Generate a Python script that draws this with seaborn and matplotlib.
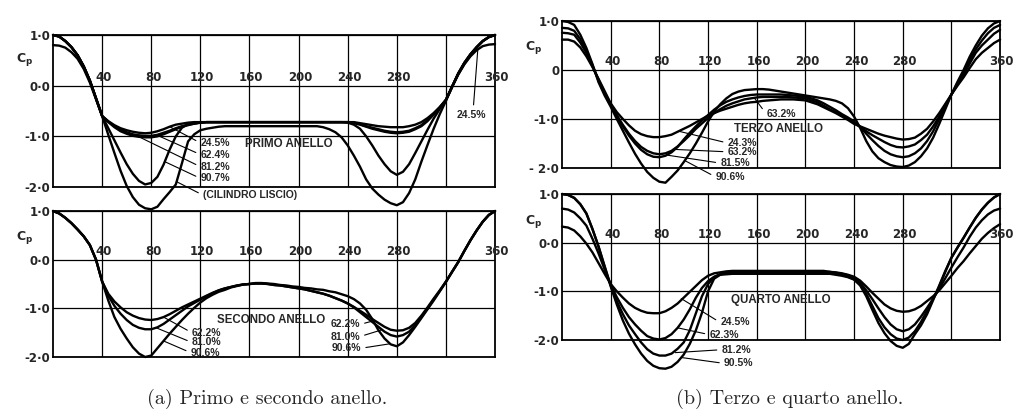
import matplotlib
matplotlib.use("Agg")
import matplotlib.pyplot as plt
import pandas as pd
import seaborn as sns

# pressure coefficient Cp vs angle (deg), every 5 deg
THETA = list(range(0, 361, 5))

# primo anello
primo_245 = [0.80, 0.79, 0.75, 0.66, 0.53, 0.33, 0.06, -0.27, -0.60, -0.70, -0.78, -0.84,
             -0.88, -0.91, -0.93, -0.94, -0.93, -0.90, -0.86, -0.81, -0.77, -0.75, -0.73, -0.72,
             -0.72, -0.72, -0.72, -0.72, -0.72, -0.72, -0.72, -0.72, -0.72, -0.72, -0.72, -0.72,
             -0.72, -0.72, -0.72, -0.72, -0.72, -0.72, -0.72, -0.72, -0.72, -0.72, -0.72, -0.72,
             -0.72, -0.72, -0.74, -0.76, -0.78, -0.80, -0.81, -0.82, -0.82, -0.82, -0.80, -0.77,
             -0.72, -0.64, -0.54, -0.42, -0.28, -0.02, 0.22, 0.42, 0.58, 0.70, 0.78, 0.81,
             0.82]
primo_624 = [1.00, 0.97, 0.88, 0.76, 0.60, 0.38, 0.10, -0.25, -0.60, -0.71, -0.80, -0.87,
             -0.92, -0.96, -0.98, -0.99, -0.99, -0.97, -0.93, -0.89, -0.84, -0.80, -0.77, -0.75,
             -0.73, -0.72, -0.72, -0.72, -0.72, -0.72, -0.72, -0.72, -0.72, -0.72, -0.72, -0.72,
             -0.72, -0.72, -0.72, -0.72, -0.72, -0.72, -0.72, -0.72, -0.72, -0.72, -0.72, -0.72,
             -0.72, -0.73, -0.76, -0.80, -0.83, -0.86, -0.89, -0.91, -0.92, -0.91, -0.89, -0.84,
             -0.78, -0.68, -0.56, -0.43, -0.28, -0.02, 0.24, 0.45, 0.62, 0.76, 0.88, 0.96,
             1.00]
primo_812 = [1.00, 0.97, 0.88, 0.76, 0.60, 0.38, 0.10, -0.25, -0.60, -0.72, -0.82, -0.90,
             -0.95, -0.99, -1.01, -1.02, -1.02, -1.00, -0.96, -0.91, -0.86, -0.81, -0.78, -0.75,
             -0.73, -0.72, -0.72, -0.72, -0.72, -0.72, -0.72, -0.72, -0.72, -0.72, -0.72, -0.72,
             -0.72, -0.72, -0.72, -0.72, -0.72, -0.72, -0.72, -0.72, -0.72, -0.72, -0.72, -0.72,
             -0.72, -0.74, -0.77, -0.81, -0.85, -0.88, -0.91, -0.93, -0.94, -0.93, -0.91, -0.86,
             -0.80, -0.70, -0.57, -0.43, -0.28, -0.02, 0.24, 0.45, 0.62, 0.76, 0.88, 0.96,
             1.00]
primo_907 = [1.00, 0.97, 0.88, 0.76, 0.60, 0.38, 0.10, -0.25, -0.60, -0.84, -1.08, -1.32,
             -1.55, -1.74, -1.88, -1.95, -1.92, -1.80, -1.56, -1.26, -1.00, -0.83, -0.76, -0.74,
             -0.73, -0.72, -0.72, -0.72, -0.72, -0.72, -0.72, -0.72, -0.72, -0.72, -0.72, -0.72,
             -0.72, -0.72, -0.72, -0.72, -0.72, -0.72, -0.72, -0.72, -0.72, -0.72, -0.72, -0.72,
             -0.73, -0.77, -0.85, -1.00, -1.18, -1.38, -1.55, -1.69, -1.76, -1.70, -1.55, -1.33,
             -1.10, -0.87, -0.65, -0.46, -0.28, -0.02, 0.24, 0.45, 0.62, 0.76, 0.88, 0.96,
             1.00]
primo_liscio = [1.00, 0.97, 0.88, 0.76, 0.60, 0.38, 0.10, -0.25, -0.60, -0.97, -1.33, -1.68,
                -1.98, -2.20, -2.35, -2.42, -2.44, -2.39, -2.24, -2.10, -1.95, -1.53, -1.10, -0.96,
                -0.88, -0.85, -0.83, -0.81, -0.80, -0.80, -0.80, -0.80, -0.80, -0.80, -0.80, -0.80,
                -0.80, -0.80, -0.80, -0.80, -0.80, -0.80, -0.80, -0.80, -0.82, -0.86, -0.92, -1.02,
                -1.18, -1.38, -1.60, -1.85, -2.03, -2.15, -2.25, -2.32, -2.36, -2.30, -2.12, -1.85,
                -1.50, -1.17, -0.85, -0.56, -0.30, -0.03, 0.22, 0.43, 0.60, 0.75, 0.88, 0.96,
                1.00]

# secondo anello
secondo_622 = [1.00, 0.95, 0.86, 0.75, 0.62, 0.48, 0.30, 0.00, -0.45, -0.70, -0.86, -0.98,
               -1.08, -1.15, -1.20, -1.23, -1.24, -1.22, -1.18, -1.12, -1.05, -0.98, -0.92, -0.86,
               -0.80, -0.74, -0.68, -0.63, -0.59, -0.56, -0.53, -0.51, -0.50, -0.49, -0.49, -0.50,
               -0.52, -0.53, -0.55, -0.57, -0.59, -0.61, -0.64, -0.67, -0.70, -0.74, -0.79, -0.84,
               -0.90, -0.97, -1.05, -1.13, -1.22, -1.30, -1.38, -1.44, -1.46, -1.45, -1.40, -1.30,
               -1.15, -0.98, -0.80, -0.63, -0.45, -0.25, -0.05, 0.18, 0.40, 0.60, 0.78, 0.92,
               1.00]
secondo_810 = [1.00, 0.95, 0.86, 0.75, 0.62, 0.48, 0.30, 0.00, -0.45, -0.74, -0.95, -1.11,
               -1.24, -1.34, -1.40, -1.43, -1.43, -1.39, -1.32, -1.23, -1.14, -1.05, -0.96, -0.89,
               -0.82, -0.75, -0.69, -0.63, -0.59, -0.56, -0.53, -0.51, -0.50, -0.49, -0.49, -0.50,
               -0.52, -0.53, -0.55, -0.57, -0.59, -0.61, -0.64, -0.67, -0.70, -0.74, -0.79, -0.84,
               -0.90, -0.98, -1.08, -1.18, -1.28, -1.38, -1.48, -1.55, -1.58, -1.55, -1.48, -1.34,
               -1.18, -1.00, -0.82, -0.64, -0.45, -0.25, -0.05, 0.18, 0.40, 0.60, 0.78, 0.92,
               1.00]
secondo_906 = [1.00, 0.95, 0.86, 0.75, 0.62, 0.48, 0.30, 0.00, -0.45, -0.84, -1.18, -1.42,
               -1.62, -1.80, -1.93, -2.00, -1.97, -1.82, -1.67, -1.52, -1.38, -1.24, -1.11, -0.99,
               -0.88, -0.79, -0.72, -0.66, -0.62, -0.57, -0.54, -0.51, -0.50, -0.48, -0.48, -0.49,
               -0.50, -0.52, -0.53, -0.55, -0.56, -0.58, -0.59, -0.61, -0.62, -0.65, -0.67, -0.71,
               -0.75, -0.81, -0.90, -1.03, -1.22, -1.45, -1.62, -1.74, -1.78, -1.70, -1.55, -1.38,
               -1.20, -1.02, -0.84, -0.65, -0.46, -0.25, -0.05, 0.18, 0.40, 0.60, 0.78, 0.92,
               1.00]

# terzo anello
terzo_243 = [0.62, 0.62, 0.58, 0.46, 0.28, 0.06, -0.18, -0.43, -0.68, -0.86, -1.00, -1.13,
             -1.24, -1.31, -1.35, -1.37, -1.37, -1.35, -1.32, -1.26, -1.20, -1.14, -1.07, -1.00,
             -0.93, -0.88, -0.83, -0.79, -0.75, -0.71, -0.68, -0.66, -0.65, -0.63, -0.62, -0.61,
             -0.60, -0.60, -0.60, -0.61, -0.62, -0.66, -0.70, -0.76, -0.82, -0.88, -0.95, -1.02,
             -1.10, -1.15, -1.20, -1.25, -1.30, -1.34, -1.37, -1.40, -1.42, -1.41, -1.38, -1.30,
             -1.20, -1.05, -0.88, -0.69, -0.50, -0.32, -0.15, 0.04, 0.22, 0.35, 0.45, 0.55,
             0.62]
terzo_632 = [0.76, 0.75, 0.72, 0.56, 0.35, 0.08, -0.20, -0.46, -0.70, -0.92, -1.12, -1.30,
             -1.45, -1.57, -1.65, -1.70, -1.72, -1.70, -1.65, -1.56, -1.45, -1.33, -1.20, -1.09,
             -0.98, -0.88, -0.80, -0.73, -0.68, -0.64, -0.60, -0.58, -0.56, -0.55, -0.55, -0.55,
             -0.55, -0.55, -0.56, -0.57, -0.58, -0.62, -0.66, -0.73, -0.80, -0.86, -0.93, -1.00,
             -1.08, -1.16, -1.25, -1.33, -1.40, -1.47, -1.53, -1.57, -1.58, -1.56, -1.52, -1.43,
             -1.32, -1.15, -0.95, -0.72, -0.50, -0.30, -0.10, 0.13, 0.35, 0.50, 0.62, 0.74,
             0.82]
terzo_815 = [0.86, 0.85, 0.80, 0.63, 0.40, 0.10, -0.22, -0.48, -0.72, -0.95, -1.15, -1.34,
             -1.50, -1.63, -1.72, -1.77, -1.78, -1.75, -1.68, -1.57, -1.42, -1.28, -1.15, -1.03,
             -0.92, -0.81, -0.72, -0.65, -0.60, -0.56, -0.53, -0.51, -0.50, -0.50, -0.50, -0.50,
             -0.50, -0.51, -0.52, -0.53, -0.55, -0.58, -0.62, -0.68, -0.75, -0.82, -0.90, -0.97,
             -1.05, -1.16, -1.30, -1.43, -1.55, -1.65, -1.72, -1.76, -1.78, -1.76, -1.70, -1.60,
             -1.45, -1.25, -1.00, -0.75, -0.50, -0.27, -0.05, 0.20, 0.42, 0.60, 0.75, 0.86,
             0.92]
terzo_906 = [1.00, 0.98, 0.92, 0.72, 0.45, 0.12, -0.25, -0.52, -0.75, -1.00, -1.24, -1.48,
             -1.71, -1.91, -2.08, -2.20, -2.28, -2.30, -2.18, -2.05, -1.88, -1.70, -1.50, -1.28,
             -1.05, -0.85, -0.70, -0.58, -0.49, -0.44, -0.41, -0.40, -0.39, -0.39, -0.40, -0.42,
             -0.44, -0.46, -0.48, -0.50, -0.52, -0.54, -0.56, -0.58, -0.60, -0.63, -0.68, -0.78,
             -0.95, -1.18, -1.45, -1.66, -1.80, -1.88, -1.94, -1.97, -1.98, -1.95, -1.88, -1.76,
             -1.60, -1.38, -1.10, -0.80, -0.50, -0.24, 0.00, 0.27, 0.50, 0.70, 0.85, 0.95,
             1.00]

# quarto anello
quarto_245 = [0.33, 0.31, 0.25, 0.13, -0.02, -0.20, -0.42, -0.64, -0.85, -1.00, -1.13, -1.25,
              -1.34, -1.40, -1.44, -1.45, -1.45, -1.41, -1.34, -1.25, -1.13, -1.01, -0.89, -0.77,
              -0.68, -0.63, -0.61, -0.59, -0.58, -0.58, -0.58, -0.58, -0.58, -0.58, -0.58, -0.58,
              -0.58, -0.58, -0.58, -0.58, -0.58, -0.58, -0.58, -0.58, -0.60, -0.61, -0.63, -0.66,
              -0.70, -0.78, -0.90, -1.03, -1.15, -1.27, -1.35, -1.40, -1.42, -1.41, -1.37, -1.30,
              -1.20, -1.10, -0.98, -0.83, -0.68, -0.52, -0.38, -0.22, -0.07, 0.08, 0.20, 0.30,
              0.38]
quarto_623 = [0.70, 0.68, 0.62, 0.50, 0.35, 0.08, -0.22, -0.55, -0.86, -1.12, -1.34, -1.53,
              -1.68, -1.81, -1.92, -1.97, -1.99, -1.96, -1.88, -1.75, -1.58, -1.37, -1.13, -0.93,
              -0.79, -0.70, -0.65, -0.62, -0.61, -0.60, -0.60, -0.60, -0.60, -0.60, -0.60, -0.60,
              -0.60, -0.60, -0.60, -0.60, -0.60, -0.60, -0.60, -0.60, -0.60, -0.62, -0.64, -0.67,
              -0.72, -0.82, -0.98, -1.16, -1.35, -1.53, -1.68, -1.78, -1.82, -1.78, -1.68, -1.52,
              -1.34, -1.15, -0.95, -0.73, -0.51, -0.30, -0.10, 0.12, 0.31, 0.46, 0.58, 0.66,
              0.70]
quarto_812 = [1.00, 0.98, 0.92, 0.79, 0.60, 0.28, -0.08, -0.48, -0.88, -1.20, -1.47, -1.70,
              -1.88, -2.05, -2.19, -2.28, -2.32, -2.32, -2.28, -2.18, -2.05, -1.80, -1.45, -1.10,
              -0.85, -0.71, -0.65, -0.63, -0.62, -0.62, -0.62, -0.62, -0.62, -0.62, -0.62, -0.62,
              -0.62, -0.62, -0.62, -0.62, -0.62, -0.62, -0.62, -0.62, -0.62, -0.64, -0.66, -0.70,
              -0.75, -0.86, -1.05, -1.30, -1.55, -1.74, -1.88, -1.97, -2.00, -1.95, -1.82, -1.63,
              -1.40, -1.15, -0.90, -0.60, -0.31, -0.10, 0.10, 0.31, 0.51, 0.68, 0.82, 0.93,
              1.00]
quarto_905 = [1.00, 0.98, 0.92, 0.79, 0.60, 0.28, -0.08, -0.50, -0.90, -1.27, -1.60, -1.87,
              -2.09, -2.28, -2.43, -2.53, -2.58, -2.59, -2.55, -2.45, -2.30, -2.08, -1.80, -1.44,
              -1.00, -0.74, -0.66, -0.65, -0.64, -0.64, -0.64, -0.64, -0.64, -0.64, -0.64, -0.64,
              -0.64, -0.64, -0.64, -0.64, -0.64, -0.64, -0.64, -0.64, -0.64, -0.66, -0.68, -0.71,
              -0.76, -0.88, -1.10, -1.38, -1.65, -1.86, -2.02, -2.12, -2.16, -2.08, -1.88, -1.70,
              -1.47, -1.18, -0.88, -0.58, -0.31, -0.10, 0.10, 0.31, 0.51, 0.68, 0.82, 0.93,
              1.00]

XTICK_POS = [40, 80, 120, 160, 200, 240, 280, 360]
XTICK_LBL = ["40", "80", "120", "160", "200", "240", "280", "360"]
GRID_X = [40, 80, 120, 160, 200, 240, 280, 320]
YTICK_POS = [1, 0, -1, -2]
YTICK_LBL = ["1·0", "0·0", "-1·0", "-2·0"]
YTICK_LBL_TERZO = ["1·0", "0", "-1·0", "- 2·0"]

sns.set_style("white")
plt.rcParams["font.family"] = ["DejaVu Sans"]
plt.rcParams["mathtext.fontset"] = "dejavusans"

LBL_FONT = dict(family="Liberation Sans", weight="bold", size=7.5)
TITLE_FONT = dict(family="Liberation Sans", weight="bold", size=8.3)


def draw_panel(ax, curves, yticklabels, cp_y):
    rows = []
    for name, vals in curves.items():
        for t, v in zip(THETA, vals):
            rows.append({"theta": t, "cp": v, "curve": name})
    df = pd.DataFrame(rows)
    sns.lineplot(data=df, x="theta", y="cp", hue="curve", palette={k: "black" for k in curves},
                 estimator=None, sort=False, legend=False, linewidth=1.7, ax=ax)
    for line in ax.lines:
        line.set_clip_on(False)
        line.set_solid_joinstyle("round")
        line.set_zorder(3)

    ax.set_xlim(0, 360)
    ax.set_ylim(-2, 1)
    ax.set_xticks(GRID_X)
    ax.set_xticklabels([])
    ax.set_yticks(YTICK_POS)
    ax.set_yticklabels(yticklabels)
    ax.tick_params(axis="both", length=0)
    ax.tick_params(axis="y", pad=2, labelsize=8.5)
    for lbl in ax.get_yticklabels():
        lbl.set_fontweight("bold")
    ax.grid(True, color="black", linewidth=0.9)
    ax.set_axisbelow(True)
    for sp in ax.spines.values():
        sp.set_color("black")
        sp.set_linewidth(1.3)
    ax.set_xlabel("")
    ax.set_ylabel("")

    for pos, txt in zip(XTICK_POS, XTICK_LBL):
        ax.text(pos + 1.5, 0.04, txt, ha="center", va="bottom", fontsize=8.5,
                fontweight="bold", zorder=4)
    ax.text(-0.065, cp_y, r"$\mathbf{C_p}$", transform=ax.get_yaxis_transform(),
            ha="center", va="center", fontsize=9)


def leader(ax, text, xy, xytext, side="left"):
    ha = "left" if side == "left" else "right"
    rel = (0.0, 0.5) if side == "left" else (1.0, 0.5)
    ax.annotate(text, xy=xy, xytext=xytext, ha=ha, va="center", annotation_clip=False,
                **LBL_FONT,
                arrowprops=dict(arrowstyle="-", lw=0.8, color="black", relpos=rel,
                                shrinkA=1, shrinkB=0))


fig = plt.figure(figsize=(10.18, 4.2), dpi=100)
fig.patch.set_facecolor("white")

ax1 = fig.add_axes([0.0521, 0.5548, 0.4342, 0.3619])
ax2 = fig.add_axes([0.0521, 0.1500, 0.4342, 0.3476])
ax3 = fig.add_axes([0.5521, 0.6000, 0.4303, 0.3500])
ax4 = fig.add_axes([0.5521, 0.1905, 0.4303, 0.3476])

# primo anello
draw_panel(ax1, {"24.5": primo_245, "62.4": primo_624, "81.2": primo_812,
                 "90.7": primo_907, "liscio": primo_liscio}, YTICK_LBL, 0.52)
ax1.text(192, -1.15, "PRIMO ANELLO", ha="center", va="center", **TITLE_FONT)
leader(ax1, "24.5%", (95, -0.81), (120, -1.13))
leader(ax1, "62.4%", (84, -0.97), (120, -1.36))
leader(ax1, "81.2%", (70, -1.01), (120, -1.60))
leader(ax1, "90.7%", (91, -1.50), (120, -1.83))
leader(ax1, "(CILINDRO LISCIO)", (101, -1.90), (122, -2.16))
ax1.annotate("24.5%", xy=(346, 0.73), xytext=(341, -0.57), ha="center", va="center", **LBL_FONT,
             arrowprops=dict(arrowstyle="-", lw=0.8, color="black", relpos=(0.55, 1.0),
                             shrinkA=1, shrinkB=0))

# secondo anello
draw_panel(ax2, {"62.2": secondo_622, "81.0": secondo_810, "90.6": secondo_906}, YTICK_LBL, 0.45)
ax2.text(178, -1.23, "SECONDO ANELLO", ha="center", va="center", **TITLE_FONT)
leader(ax2, "62.2%", (90, -1.18), (113, -1.50))
leader(ax2, "81.0%", (84, -1.40), (113, -1.70))
leader(ax2, "90.6%", (90, -1.67), (112, -1.91))
leader(ax2, "62.2%", (262, -1.25), (250, -1.33), side="right")
leader(ax2, "81.0%", (268, -1.44), (250, -1.58), side="right")
leader(ax2, "90.6%", (274, -1.73), (251, -1.82), side="right")

# terzo anello
draw_panel(ax3, {"24.3": terzo_243, "63.2": terzo_632, "81.5": terzo_815, "90.6": terzo_906},
           YTICK_LBL_TERZO, 0.45)
ax3.text(178, -1.20, "TERZO ANELLO", ha="center", va="center", **TITLE_FONT)
leader(ax3, "63.2%", (158, -0.57), (168, -0.90))
leader(ax3, "24.3%", (96, -1.25), (136, -1.49))
leader(ax3, "63.2%", (92, -1.62), (136, -1.67))
leader(ax3, "81.5%", (87, -1.74), (130, -1.90))
leader(ax3, "90.6%", (101, -1.85), (126, -2.18))

# quarto anello
draw_panel(ax4, {"24.5": quarto_245, "62.3": quarto_623, "81.2": quarto_812, "90.5": quarto_905},
           YTICK_LBL, 0.43)
ax4.text(180, -1.17, "QUARTO ANELLO", ha="center", va="center", **TITLE_FONT)
leader(ax4, "24.5%", (98, -1.15), (130, -1.64))
leader(ax4, "62.3%", (95, -1.75), (121, -1.89))
leader(ax4, "81.2%", (93, -2.26), (131, -2.20))
leader(ax4, "90.5%", (98, -2.36), (133, -2.48))

fig.text(0.262, 0.05, "(a) Primo e secondo anello.", ha="center", va="center",
         family="cmr10", fontsize=14.5)
fig.text(0.776, 0.05, "(b) Terzo e quarto anello.", ha="center", va="center",
         family="cmr10", fontsize=14.5)

fig.savefig("out.png", dpi=100, facecolor="white")
